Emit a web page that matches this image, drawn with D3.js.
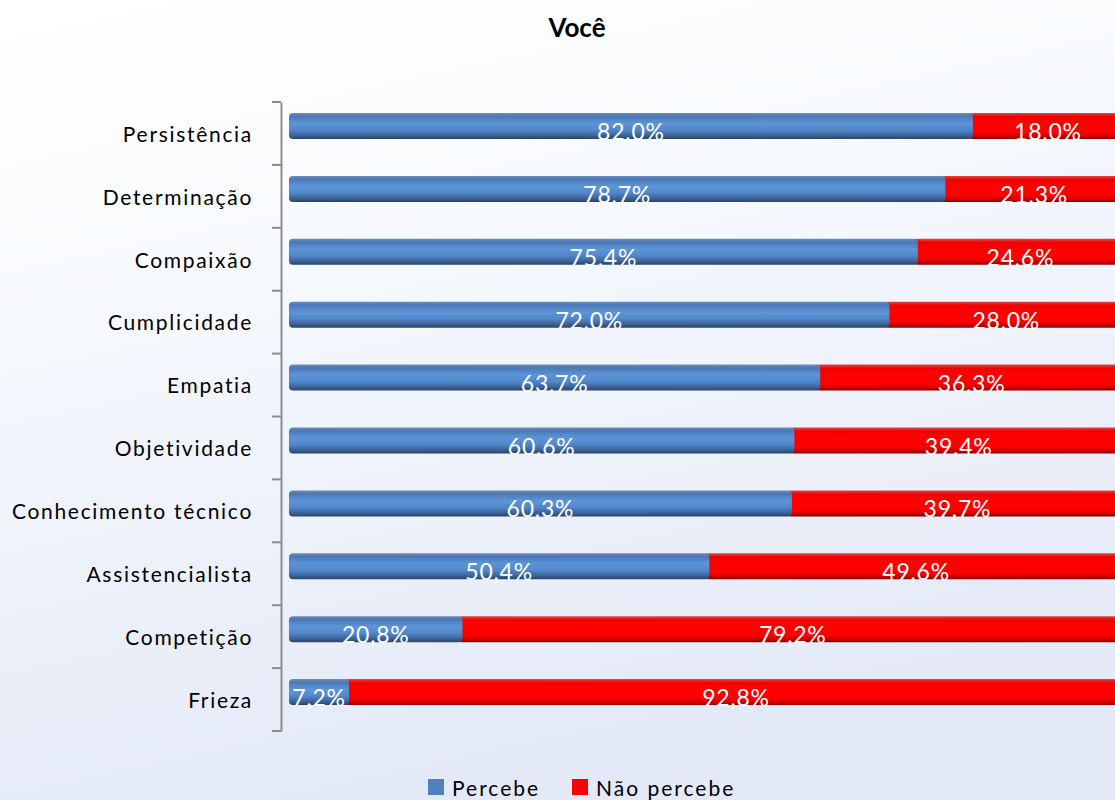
<!DOCTYPE html>
<html>
<head>
<meta charset="utf-8">
<script src="https://cdn.jsdelivr.net/npm/d3@7"></script>
<style>
  body { margin: 0; overflow: hidden; }
  text { font-family: Lato, "Open Sans", sans-serif; }
</style>
</head>
<body>
<div id="vis"></div>
<script>
const categories = ['Persistência', 'Determinação', 'Compaixão', 'Cumplicidade', 'Empatia',
    'Objetividade', 'Conhecimento técnico', 'Assistencialista', 'Competição', 'Frieza']
const percebe = [82.0, 78.7, 75.4, 72.0, 63.7, 60.6, 60.3, 50.4, 20.8, 7.2]
const naoPercebe = [18.0, 21.3, 24.6, 28.0, 36.3, 39.4, 39.7, 49.6, 79.2, 92.8]
const seriesNames = ['Percebe', 'Não percebe']

const W = 1115, H = 800

let dataset = categories.map((c, i) => ({ cat: c, p: percebe[i], n: naoPercebe[i] }))

let svg = d3.select('#vis').append('svg')
    .attr('width', W)
    .attr('height', H)

let defs = svg.append('defs')

// background gradient
let bg = defs.append('linearGradient').attr('id', 'bg')
    .attr('x1', 0).attr('y1', 0).attr('x2', 0.3).attr('y2', 1)
bg.append('stop').attr('offset', '0%').attr('stop-color', '#ffffff')
bg.append('stop').attr('offset', '25%').attr('stop-color', '#fafcfe')
bg.append('stop').attr('offset', '100%').attr('stop-color', '#e3e9f7')

// bar gradients (fake 3D cylinder look)
let gBlue = defs.append('linearGradient').attr('id', 'gBlue')
    .attr('x1', 0).attr('y1', 0).attr('x2', 0).attr('y2', 1)
gBlue.append('stop').attr('offset', '0%').attr('stop-color', '#6f8db5')
gBlue.append('stop').attr('offset', '12%').attr('stop-color', '#4a78b5')
gBlue.append('stop').attr('offset', '40%').attr('stop-color', '#5c95d8')
gBlue.append('stop').attr('offset', '65%').attr('stop-color', '#5287c9')
gBlue.append('stop').attr('offset', '85%').attr('stop-color', '#3d659c')
gBlue.append('stop').attr('offset', '100%').attr('stop-color', '#2a4466')

let gRed = defs.append('linearGradient').attr('id', 'gRed')
    .attr('x1', 0).attr('y1', 0).attr('x2', 0).attr('y2', 1)
gRed.append('stop').attr('offset', '0%').attr('stop-color', '#d84a4a')
gRed.append('stop').attr('offset', '14%').attr('stop-color', '#f20000')
gRed.append('stop').attr('offset', '30%').attr('stop-color', '#ff0000')
gRed.append('stop').attr('offset', '75%').attr('stop-color', '#ff0000')
gRed.append('stop').attr('offset', '88%').attr('stop-color', '#d20000')
gRed.append('stop').attr('offset', '100%').attr('stop-color', '#8e0000')

svg.append('rect').attr('width', W).attr('height', H).attr('fill', 'url(#bg)')

// title
svg.append('text')
    .attr('x', 577).attr('y', 37)
    .attr('text-anchor', 'middle')
    .style('font-size', '26px')
    .style('font-weight', 'bold')
    .text('Você')

// scales
let x = d3.scaleLinear().domain([0, 100]).range([289, 1123])
let y = d3.scaleBand().domain(categories).range([102, 731]).padding(0)

const barOff = 11, barH = 26

// y axis
let yAxis = svg.append('g')
    .attr('transform', 'translate(281,0)')
    .call(d3.axisLeft(y).tickSize(0).tickFormat(''))
yAxis.select('.domain').attr('stroke', '#8c8c8c').attr('stroke-width', 2)
yAxis.selectAll('.tick').remove()

let edges = d3.range(categories.length + 1).map(i => y.range()[0] + i * y.step())
svg.append('g').selectAll('line')
    .data(edges)
    .join('line')
    .attr('x1', 272).attr('x2', 281)
    .attr('y1', d => d).attr('y2', d => d)
    .attr('stroke', '#8c8c8c').attr('stroke-width', 2)

// category labels
svg.append('g').selectAll('text')
    .data(categories)
    .join('text')
    .attr('x', 253)
    .attr('y', d => y(d) + y.bandwidth() / 2 + 3)
    .attr('text-anchor', 'end')
    .attr('dominant-baseline', 'middle')
    .style('font-size', '21px')
    .style('letter-spacing', '1.7px')
    .attr('fill', '#000')
    .text(d => d)

// bars
let rows = svg.append('g').selectAll('g')
    .data(dataset)
    .join('g')
    .attr('transform', d => `translate(0,${y(d.cat) + barOff})`)

rows.append('rect')
    .attr('x', d => x(d.p) - 6)
    .attr('width', d => x(100) - x(d.p) + 6)
    .attr('height', barH)
    .attr('rx', 5)
    .attr('fill', 'url(#gRed)')

rows.append('rect')
    .attr('x', x(0))
    .attr('width', d => x(d.p) - x(0))
    .attr('height', barH)
    .attr('rx', 4)
    .attr('fill', 'url(#gBlue)')

let fmt = v => d3.format('.1f')(v).replace('.', ',') + '%'

// value labels
rows.append('text')
    .attr('x', d => (x(0) + x(d.p)) / 2)
    .attr('y', barH + 1)
    .attr('text-anchor', 'middle')
    .attr('fill', '#fff')
    .style('font-size', '23px')
    .style('letter-spacing', '0.8px')
    .text(d => fmt(d.p))

rows.append('text')
    .attr('x', d => (x(d.p) + x(100)) / 2)
    .attr('y', barH + 1)
    .attr('text-anchor', 'middle')
    .attr('fill', '#fff')
    .style('font-size', '23px')
    .style('letter-spacing', '0.8px')
    .text(d => fmt(d.n))

// legend
let legend = svg.append('g')
let legItems = [
    { name: seriesNames[0], color: '#4f81bd', x: 428 },
    { name: seriesNames[1], color: '#ff0000', x: 572 }
]
legend.selectAll('rect')
    .data(legItems)
    .join('rect')
    .attr('x', d => d.x).attr('y', 779)
    .attr('width', 16).attr('height', 16)
    .attr('fill', d => d.color)
legend.selectAll('text')
    .data(legItems)
    .join('text')
    .attr('x', d => d.x + 24).attr('y', 796)
    .style('font-size', '21px')
    .style('letter-spacing', '2px')
    .text(d => d.name)
</script>
</body>
</html>
